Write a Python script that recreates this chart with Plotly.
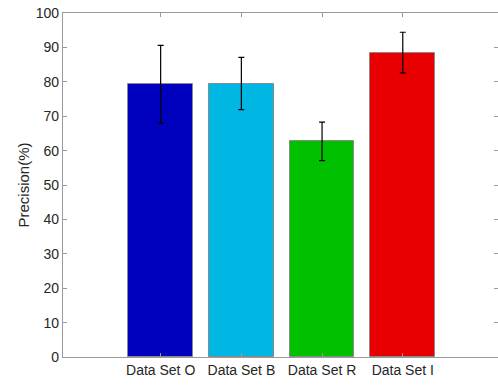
import plotly.graph_objects as go

# Mean precision per data set with symmetric standard deviation
categories = ["Data Set O", "Data Set B", "Data Set R", "Data Set I"]
precision = [79.3, 79.5, 62.7, 88.5]
std_dev = [11.3, 7.6, 5.6, 5.9]
bar_colors = ["#0000BF", "#00B7E3", "#00C000", "#E80000"]
y_ticks = list(range(0, 101, 10))

positions = list(range(1, len(categories) + 1))

fig = go.Figure()
fig.add_trace(go.Bar(
    x=positions,
    y=precision,
    width=0.8,
    marker=dict(color=bar_colors, line=dict(color="#8a8a8a", width=1)),
    error_y=dict(type="data", array=std_dev, visible=True,
                 color="black", thickness=1.2, width=3),
    showlegend=False,
))

axis_common = dict(
    showline=True, linecolor="#9a9a9a", linewidth=1.2,
    mirror="ticks", ticks="inside", ticklen=4, tickcolor="#9a9a9a",
    showgrid=False, zeroline=False,
    tickfont=dict(family="Liberation Sans, Arial", size=14, color="#262626"),
)

fig.update_layout(
    width=498, height=385,
    margin=dict(l=63, r=0, t=13, b=28),
    paper_bgcolor="white", plot_bgcolor="white",
    bargap=0,
    xaxis=dict(
        range=[-0.21, 5.18],
        tickmode="array", tickvals=positions, ticktext=categories,
        **axis_common,
    ),
    yaxis=dict(
        range=[0, 100],
        tickmode="array", tickvals=y_ticks,
        title=dict(text="Precision(%)",
                   font=dict(family="Liberation Sans, Arial", size=15, color="#262626"),
                   standoff=2),
        **axis_common,
    ),
)

fig.write_html("out.html")
